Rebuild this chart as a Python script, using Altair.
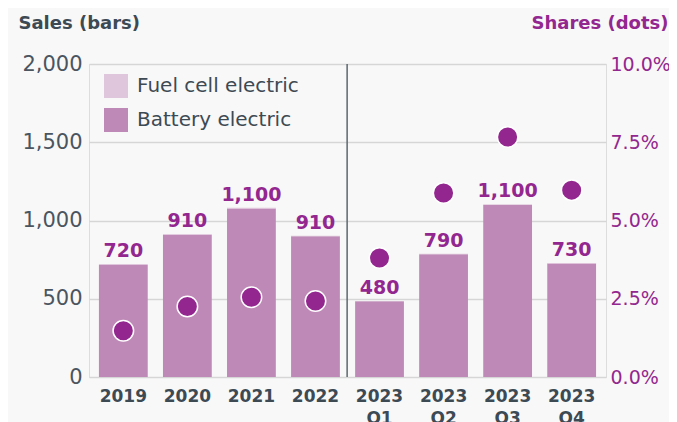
import altair as alt
import pandas as pd

periods = ["2019", "2020", "2021", "2022", "2023 Q1", "2023 Q2", "2023 Q3", "2023 Q4"]
battery = [716, 909, 1077, 899, 484, 785, 1100, 726]
fuel_cell = [6, 5, 5, 4, 1, 2, 3, 2]
bar_labels = ["720", "910", "1,100", "910", "480", "790", "1,100", "730"]
shares = [0.0148, 0.0225, 0.0255, 0.0243, 0.038, 0.0588, 0.0767, 0.0597]
types = ["Fuel cell electric", "Battery electric"]

rows = []
for p, b, f in zip(periods, battery, fuel_cell):
    rows.append({"period": p, "type": "Battery electric", "value": b, "ord": 0})
    rows.append({"period": p, "type": "Fuel cell electric", "value": f, "ord": 1})
bar_df = pd.DataFrame(rows)
text_df = pd.DataFrame({
    "period": periods,
    "total": [b + f for b, f in zip(battery, fuel_cell)],
    "label": bar_labels,
})
share_df = pd.DataFrame({"period": periods, "share": shares})
rule_df = pd.DataFrame({"period": ["2023 Q1"]})

DARK = "#3d4a54"
PURPLE = "#93278f"
FONT = "DejaVu Sans"

xscale = alt.Scale(paddingInner=0.238, paddingOuter=0.155)
x_axis = alt.Axis(
    title=None, labelAngle=0, ticks=False, domain=False,
    labelExpr="split(datum.label, ' ')", labelFontSize=17, labelFontWeight="bold",
    labelColor=DARK, labelPadding=11, labelLineHeight=22, labelFont=FONT,
)
x_enc = alt.X("period:N", sort=periods, scale=xscale, axis=x_axis)

sales_scale = alt.Scale(domain=[0, 2000])
sales_axis = alt.Axis(
    values=[0, 500, 1000, 1500, 2000], format=",.0f", ticks=False, domain=False,
    labelFontSize=21, labelColor="#4a5560", labelPadding=7, labelFont=FONT,
    grid=True, gridColor="#d6d6d6", gridWidth=1.5,
    title="Sales (bars)", titleAngle=0, titleX=-71, titleY=-36,
    titleAlign="left", titleBaseline="alphabetic", titleFontSize=18,
    titleFontWeight="bold", titleColor=DARK, titleFont=FONT,
)

bars = alt.Chart(bar_df).mark_bar().encode(
    x=x_enc,
    y=alt.Y("value:Q", stack=True, scale=sales_scale, axis=sales_axis),
    color=alt.Color(
        "type:N",
        scale=alt.Scale(domain=types, range=["#dfc6dc", "#bf89b7"]),
        legend=alt.Legend(
            title=None, orient="none", legendX=15, legendY=10,
            symbolType="square", symbolSize=576, symbolStrokeWidth=0,
            labelFontSize=20, labelColor=DARK, labelFont=FONT, labelLimit=400,
            rowPadding=10, labelOffset=9,
        ),
    ),
    order=alt.Order("ord:Q"),
)

labels = alt.Chart(text_df).mark_text(
    baseline="alphabetic", dy=-7, fontSize=19, fontWeight="bold", color=PURPLE, font=FONT
).encode(
    x=x_enc,
    y=alt.Y("total:Q", scale=sales_scale, axis=sales_axis),
    text="label:N",
)

divider = alt.Chart(rule_df).mark_rule(color="#5b6770", strokeWidth=1.5, xOffset=-8).encode(
    x=alt.X("period:N", sort=periods, scale=xscale, axis=x_axis, bandPosition=0),
)

dots = alt.Chart(share_df).mark_circle(
    size=420, color=PURPLE, opacity=1, stroke="white", strokeWidth=1.5
).encode(
    x=x_enc,
    y=alt.Y(
        "share:Q", scale=alt.Scale(domain=[0, 0.1]),
        axis=alt.Axis(
            orient="right", values=[0, 0.025, 0.05, 0.075, 0.1], format=".1%",
            ticks=False, domain=False, grid=False,
            labelFontSize=19, labelColor=PURPLE, labelPadding=4, labelFont=FONT,
            title="Shares (dots)", titleAngle=0, titleX=62, titleY=-36,
            titleAlign="right", titleBaseline="alphabetic", titleFontSize=18,
            titleFontWeight="bold", titleColor=PURPLE, titleFont=FONT,
        ),
    ),
)

chart = alt.layer(
    alt.layer(bars, labels, divider), dots
).resolve_scale(y="independent").properties(
    width=517, height=313,
    padding={"left": 81, "top": 56, "right": 63, "bottom": 45},
    autosize=alt.AutoSizeParams(type="none"),
    background="#f8f8f8",
).configure_view(stroke="transparent", strokeWidth=0).configure(font=FONT)

chart.save("out.html", embed_options={"renderer": "svg", "actions": False})
